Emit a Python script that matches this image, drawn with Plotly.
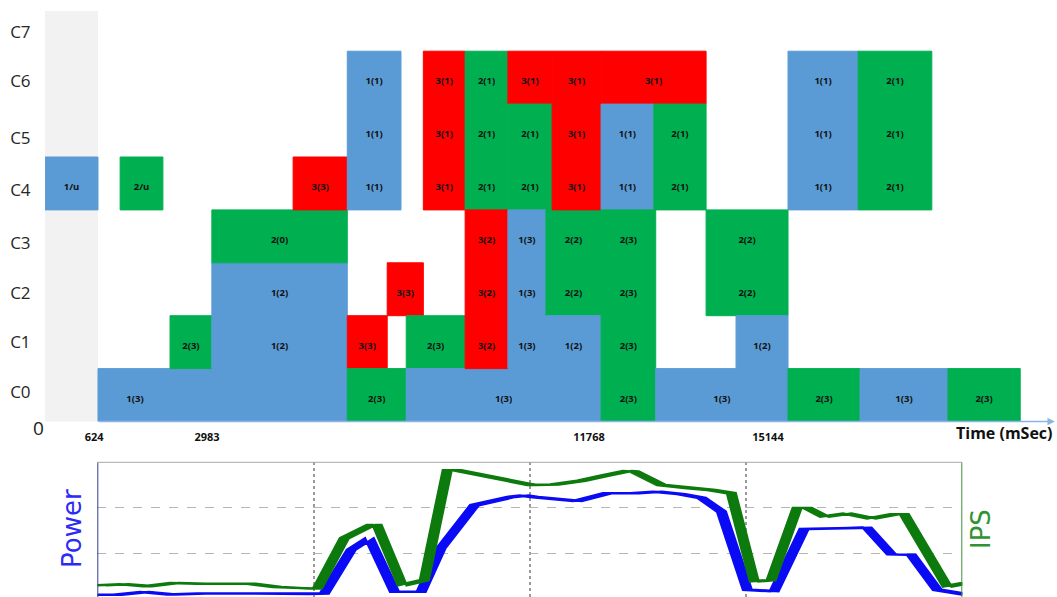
import plotly.graph_objects as go

# ---------------- schedule of tasks on cores (top panel) ----------------
core_labels = ["C0", "C1", "C2", "C3", "C4", "C5", "C6", "C7"]

# one entry per block: start/end time (ms), lowest/highest core, task id, text
blk_start = [-490, 1090, 624, 2180, 2140, 3020, 3020, 4730, 5870, 5870,
             5870, 6710, 7110, 7110, 7470, 8350, 9250, 9250, 8350, 9250,
             10050, 10050, 10180, 11210, 11210, 12320, 11210, 12360, 13420, 14050,
             15144, 16620, 15144, 16660, 18510]
blk_end = [624, 1990, 2180, 5870, 3020, 5870, 5870, 5870, 7000, 6710,
           7110, 7470, 8350, 11210, 8350, 9250, 10180, 10180, 9250, 10050,
           11210, 11210, 11210, 13420, 12320, 13420, 12360, 15144, 15144, 15144,
           16620, 18170, 16660, 18510, 20030]
blk_core_lo = [4, 4, 0, 0, 1, 1, 3, 4, 4, 1,
               0, 2, 1, 0, 4, 4, 6, 4, 1, 1,
               2, 1, 4, 6, 4, 4, 0, 0, 2, 1,
               4, 4, 0, 0, 0]
blk_core_hi = [4, 4, 0, 0, 1, 2, 3, 4, 6, 1,
               0, 2, 1, 0, 6, 6, 6, 5, 3, 3,
               3, 1, 6, 6, 5, 5, 3, 0, 3, 1,
               6, 6, 0, 0, 0]
blk_task = [1, 2, 1, 1, 2, 1, 2, 3, 1, 3,
            2, 3, 2, 1, 3, 2, 3, 2, 3, 1,
            2, 1, 3, 3, 1, 2, 2, 1, 2, 1,
            1, 2, 2, 1, 2]
blk_text = ["1/u", "2/u", "1(3)", "", "2(3)", "1(2)", "2(0)", "3(3)", "1(1)", "3(3)",
            "2(3)", "3(3)", "2(3)", "1(3)", "3(1)", "2(1)", "3(1)", "2(1)", "3(2)", "1(3)",
            "2(2)", "1(2)", "3(1)", "3(1)", "1(1)", "2(1)", "2(3)", "1(3)", "2(2)", "1(2)",
            "1(1)", "2(1)", "2(3)", "1(3)", "2(3)"]

idle_end = 624
time_tick_text = ["624", "2983", "11768", "15144"]

# ---------------- power / IPS trace (bottom panel) ----------------
power_t = [0.0, 0.37, 0.99, 1.61, 2.31, 3.46, 4.69, 5.15, 5.77, 6.19,
           6.77, 7.39, 7.85, 8.62, 9.47, 9.77, 10.0, 10.47, 11.0, 11.69,
           12.32, 12.85, 13.4, 13.87, 14.33, 14.93, 15.55, 16.24, 17.7, 18.26,
           18.72, 19.32, 19.99]
power_v = [0.09, 0.09, 0.15, 0.10, 0.12, 0.12, 0.11, 0.12, 1.07, 1.32,
           0.16, 0.16, 1.11, 2.04, 2.22, 2.25, 2.22, 2.17, 2.13, 2.30,
           2.30, 2.33, 2.28, 2.20, 1.90, 0.20, 0.17, 1.52, 1.55, 0.97,
           0.96, 0.20, 0.10]
ips_t = [0.0, 0.52, 1.06, 1.68, 2.31, 2.84, 3.46, 4.06, 4.69, 4.99,
         5.61, 6.23, 6.37, 6.95, 7.46, 7.99, 8.22, 9.94, 10.47, 11.09,
         11.62, 12.15, 12.32, 12.94, 13.63, 14.10, 14.56, 15.09, 15.48, 16.08,
         16.32, 16.71, 17.24, 17.80, 18.33, 18.56, 19.55, 19.95]
ips_v = [0.30, 0.32, 0.28, 0.35, 0.33, 0.33, 0.33, 0.26, 0.23, 0.23,
         1.32, 1.61, 1.61, 0.30, 0.41, 2.80, 2.80, 2.48, 2.49, 2.57,
         2.68, 2.78, 2.77, 2.48, 2.41, 2.37, 2.30, 0.38, 0.41, 1.98,
         1.98, 1.79, 1.86, 1.75, 1.84, 1.84, 0.27, 0.34]

# ---------------- styling ----------------
TASK_COLORS = {1: "#5b9bd5", 2: "#00b050", 3: "#ff0000"}
W, H = 1057, 597
X_RANGE = [-491, 20804]
Y_TOP = 7.76
LABEL_DROP = 0.08          # block texts sit slightly below the row middle
BRUSH = 0.2                # horizontal pen width of the measurement traces (s)
core_tick_pos = [0.56, 1.5, 2.42, 3.37, 4.38, 5.36, 6.44, 7.36]
time_tick_pos = [542, 2918, 10956, 14722]
FONT = "Open Sans"

fig = go.Figure()

shapes = [dict(type="rect", xref="x", yref="y domain", x0=X_RANGE[0], x1=idle_end,
               y0=0, y1=1, fillcolor="#f2f2f2", line=dict(width=0), layer="below")]
lab_x, lab_y, lab_t = [], [], []
for s, e, lo, hi, task, txt in zip(blk_start, blk_end, blk_core_lo, blk_core_hi,
                                   blk_task, blk_text):
    col = TASK_COLORS[task]
    shapes.append(dict(type="rect", xref="x", yref="y", x0=s, x1=e, y0=lo, y1=hi + 1,
                       fillcolor=col, line=dict(color=col, width=1), layer="below"))
    if txt:
        for r in range(lo, hi + 1):
            lab_x.append((s + e) / 2)
            lab_y.append(r + 0.5 - LABEL_DROP)
            lab_t.append(txt)

fig.add_trace(go.Scatter(x=lab_x, y=lab_y, text=lab_t, mode="text",
                         textfont=dict(family=FONT, size=9.5, color="#111111", weight="bold"),
                         hoverinfo="skip", showlegend=False, xaxis="x", yaxis="y"))


def brushed(t, v, width):
    xs = list(t) + [x + width for x in reversed(t)]
    ys = list(v) + list(reversed(v))
    return xs, ys


for t, v, col in [(power_t, power_v, "#0a0af5"), (ips_t, ips_v, "#0c7a0c")]:
    bx, by = brushed(t, v, BRUSH)
    fig.add_trace(go.Scatter(x=bx, y=by, mode="lines", fill="toself", fillcolor=col,
                             line=dict(color=col, width=2.5), hoverinfo="skip",
                             showlegend=False, xaxis="x2", yaxis="y2"))

# frame of the lower panel
shapes += [
    dict(type="line", xref="x2", yref="y2 domain", x0=0, x1=0, y0=0, y1=1,
         line=dict(color="#3b3b8f", width=2)),
    dict(type="line", xref="x2", yref="y2 domain", x0=20, x1=20, y0=0, y1=1,
         line=dict(color="#3f8f3f", width=2)),
    dict(type="line", xref="x2", yref="y2 domain", x0=0, x1=20, y0=1, y1=1,
         line=dict(color="#a8a8a8", width=1)),
]


def paper_note(px, py, text, font, **kw):
    return dict(x=px / W, y=1 - py / H, xref="paper", yref="paper", text=text,
                showarrow=False, xanchor=kw.pop("xanchor", "center"),
                yanchor="middle", font=font, **kw)


annotations = [
    # time axis with arrow
    dict(x=20760, y=0, xref="x", yref="y", ax=idle_end, ay=0, axref="x", ayref="y",
         text="", showarrow=True, arrowhead=2, arrowsize=1, arrowwidth=1.5,
         arrowcolor="#8db4e2", standoff=0),
    paper_note(38, 428, "0", dict(family=FONT, size=19, color="#222222")),
    paper_note(1055, 433, "Time (mSec)",
               dict(family=FONT, size=16, color="#111111", weight="bold"), xanchor="right"),
    paper_note(72, 529, "Power", dict(family="DejaVu Sans", size=26, color="#2b2bf5"),
               textangle=-90),
    paper_note(981, 529, "IPS", dict(family="DejaVu Sans", size=26, color="#2f942f"),
               textangle=-90),
]

fig.update_layout(
    template="none",
    width=W, height=H,
    margin=dict(l=0, r=0, t=0, b=0),
    paper_bgcolor="white", plot_bgcolor="white",
    showlegend=False,
    shapes=shapes,
    annotations=annotations,
    xaxis=dict(domain=[45 / W, 1.0], range=X_RANGE, showgrid=False, zeroline=False,
               showline=False, tickmode="array", tickvals=time_tick_pos,
               ticktext=time_tick_text, ticks="outside", ticklen=5,
               tickcolor="rgba(0,0,0,0)", automargin=False,
               tickfont=dict(family=FONT, size=11, color="#111111", weight="bold")),
    yaxis=dict(domain=[1 - 421.5 / H, 1 - 11 / H], range=[0, Y_TOP], showgrid=False,
               zeroline=False, showline=False, tickmode="array", tickvals=core_tick_pos,
               ticktext=core_labels, ticks="outside", ticklen=10,
               tickcolor="rgba(0,0,0,0)", automargin=False,
               tickfont=dict(family=FONT, size=17, color="#262626")),
    xaxis2=dict(domain=[97.3 / W, 962.3 / W], range=[0, 20], anchor="y2",
                showgrid=True, gridcolor="#9a9a9a", griddash="dot", gridwidth=1.5,
                tickmode="array", tickvals=[5, 10, 15], showticklabels=False,
                ticks="", zeroline=False, showline=False, automargin=False),
    yaxis2=dict(domain=[0, 1 - 462.3 / H], range=[0.0435, 2.972], anchor="x2",
                showgrid=True, gridcolor="#b5b5b5", griddash="dash", gridwidth=1,
                tickmode="array", tickvals=[1, 2], showticklabels=False,
                ticks="", zeroline=False, showline=False, automargin=False),
)

fig.write_html("out.html")
